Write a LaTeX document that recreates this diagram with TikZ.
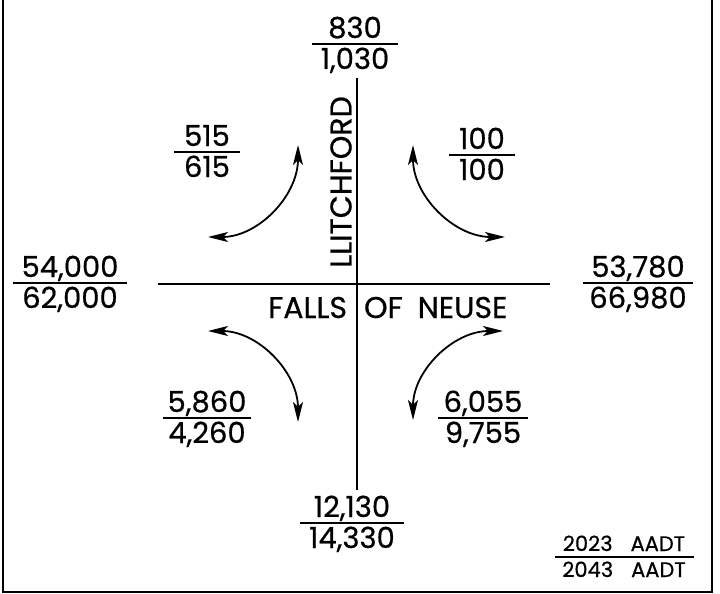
\documentclass[tikz,border=0pt]{standalone}
\usepackage{fontspec}
\setmainfont{Poppins}[FakeBold=0.6]
\usetikzlibrary{arrows.meta}
\tikzset{
  num/.style={font=\fontsize{29}{34}\selectfont, inner sep=0pt, anchor=base},
  road/.style={font=\fontsize{30}{35}\selectfont, inner sep=0pt},
  leg/.style={font=\fontsize{21}{25}\selectfont, inner sep=0pt, anchor=base},
  bar/.style={line width=1.6pt},
  roadline/.style={line width=1.8pt},
  frame/.style={line width=2.5pt},
  turn/.style={line width=1.8pt, {Stealth[length=20pt,width=10pt,inset=5pt]}-{Stealth[length=20pt,width=10pt,inset=5pt]}},
}
\newcommand\volume[6]{%
  \node[num] (#1t) at (#2,#3-6) {#5};
  \node[num] (#1b) at (#2,#3+25) {#6};
  \coordinate (#1l) at (#2-#4,#3);
  \coordinate (#1r) at (#2+#4,#3);
  \draw[bar] (#1l) -- (#1r);
}
\begin{document}
\begin{tikzpicture}[x=1pt,y=-1pt]
\useasboundingbox (0,0) rectangle (720,594);
% frame
\coordinate (f1) at (3,-3);
\coordinate (f2) at (3,592);
\coordinate (f3) at (712,592);
\coordinate (f4) at (712,-3);
\draw[frame] (f1) -- (f2) -- (f3) -- (f4);
% roads
\coordinate (nEnd) at (357,78);
\coordinate (sEnd) at (357,490);
\coordinate (wEnd) at (158,284);
\coordinate (eEnd) at (550,284);
\draw[roadline] (nEnd) -- (sEnd);
\draw[roadline] (wEnd) -- (eEnd);
% road names
\node[road, rotate=90] (litch) at (341,182) {LLITCHFORD};
\node[road, anchor=base west] (falls) at (268,318) {FALLS\hspace{17pt}OF\hspace{15pt}NEUSE};
% volumes
\volume{n}{355}{44}{43}{830}{1,030}
\volume{nw}{207}{152}{33}{515}{615}
\volume{ne}{482}{155}{33}{100}{100}
\volume{w}{70}{283}{57}{54,000}{62,000}
\volume{e}{638}{283}{55}{53,780}{66,980}
\volume{sw}{207}{418}{44}{5,860}{4,260}
\volume{se}{483}{418}{45}{6,055}{9,755}
\volume{s}{352}{523}{52}{12,130}{14,330}
% legend
\node[leg] (legt) at (624,551) {2023\hspace{18pt}AADT};
\node[leg] (legb) at (624,577) {2043\hspace{18pt}AADT};
\coordinate (legl) at (555,557);
\coordinate (legr) at (694,557);
\draw[bar] (legl) -- (legr);
% turning movements
\coordinate (nwA) at (208,237);
\coordinate (nwB) at (298,145);
\coordinate (neA) at (413,145);
\coordinate (neB) at (505,237);
\coordinate (swA) at (208,331);
\coordinate (swB) at (298,422);
\coordinate (seA) at (503,331);
\coordinate (seB) at (413,420);
\draw[turn] (nwA) .. controls +(50,0) and +(0,51) .. (nwB);
\draw[turn] (neA) .. controls +(0,51) and +(-51,0) .. (neB);
\draw[turn] (swA) .. controls +(50,0) and +(0,-50) .. (swB);
\draw[turn] (seA) .. controls +(-50,0) and +(0,-49) .. (seB);
\end{tikzpicture}
\end{document}
